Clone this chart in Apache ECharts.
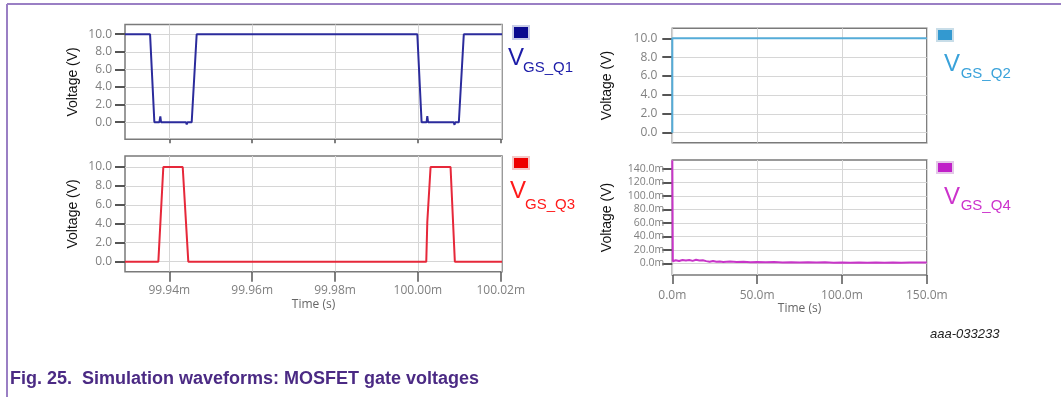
<!DOCTYPE html>
<html>
<head>
<meta charset="utf-8">
<script src="https://cdn.jsdelivr.net/npm/echarts@6/dist/echarts.min.js"></script>
<style>
  html, body { margin: 0; padding: 0; background: #ffffff; }
  #chart { width: 1061px; height: 397px; }
</style>
</head>
<body>
<div id="chart"></div>
<script>
// ---- Tick values (axis labels) ----
const leftTimeTicks = [99.94, 99.96, 99.98, 100.00, 100.02];   // ms
const rightTimeTicks = [0, 50, 100, 150];                      // ms
const voltTicks = [0, 2, 4, 6, 8, 10];                         // V
const q4Ticks = [0, 20, 40, 60, 80, 100, 120, 140];            // mV

// ---- Series: V_GS_Q1 (time in ms, volts) ----
const q1Time = [99.9293, 99.93535, 99.93639, 99.93760, 99.93783, 99.93800, 99.94400, 99.94420, 99.94440, 99.9454, 99.9466,
                99.99986, 100.00089, 100.00210, 100.00227, 100.00245, 100.00865, 100.00884, 100.00900, 100.00988, 100.01108, 100.0203];
const q1Volt = [10.0, 10.0, 0.0, 0.0, 0.65, 0.0, 0.0, -0.25, 0.0, 0.0, 10.0,
                10.0, 0.0, 0.0, 0.7, 0.0, 0.0, -0.3, 0.0, 0.0, 10.0, 10.0];

// ---- Series: V_GS_Q3 ----
const q3Time = [99.9293, 99.93735, 99.93855, 99.94323, 99.94458, 100.00202, 100.00227, 100.00306, 100.00788, 100.00892, 100.0203];
const q3Volt = [0.0, 0.0, 10.0, 10.0, 0.0, 0.0, 4.2, 10.0, 10.0, 0.0, 0.0];

// ---- Series: V_GS_Q2 (time in ms, volts) ----
const q2Time = [0, 0, 150];
const q2Volt = [0.0, 10.0, 10.0];

// ---- Series: V_GS_Q4 (time in ms, millivolts) ----
const q4Time = [0, 0.3, 2, 4, 6, 8, 10, 12, 14, 16, 18, 20, 22, 24, 26, 28, 30, 34, 38, 42, 46, 50, 55, 60, 65, 70, 75, 80, 85, 90, 95, 100, 105, 110, 115, 120, 125, 130, 135, 140, 145, 150];
const q4mV  = [153, 3.0, 4.5, 3.5, 5.0, 4.0, 4.8, 3.6, 5.2, 4.2, 4.6, 3.2, 2.4, 3.4, 2.2, 2.8, 2.0, 2.6, 1.8, 2.4, 1.6, 2.0, 1.4, 1.9, 1.2, 1.6, 1.0, 1.5, 1.1, 1.4, 0.9, 1.3, 0.8, 1.2, 0.9, 1.3, 0.8, 1.2, 0.9, 1.3, 1.0, 1.2];

const zip = (a, b) => a.map((v, i) => [v, b[i]]);

const tickFont = 'Open Sans';
const tickColor = '#808080';

function xAxisCfg(gridIndex, min, max, ticks, fmt, showLabels, tickLen, margin, nameGap) {
  return {
    type: 'value', gridIndex, min, max,
    axisLine: { show: false, onZero: false },
    axisTick: { show: tickLen > 0, length: tickLen, customValues: ticks, lineStyle: { color: '#555', width: 1.5 } },
    axisLabel: { show: showLabels, customValues: ticks, formatter: fmt, color: tickColor, fontFamily: tickFont, fontSize: 12, margin: margin },
    splitLine: { show: true, lineStyle: { color: '#d6d6d6', width: 1 } },
    name: showLabels ? 'Time (s)' : '',
    nameLocation: 'middle', nameGap: nameGap || 24,
    nameTextStyle: { color: '#666', fontFamily: tickFont, fontSize: 12 }
  };
}
function yAxisCfg(gridIndex, min, max, ticks, fmt, gap, labelSize, margin) {
  return {
    type: 'value', gridIndex, min, max,
    axisLine: { show: false, onZero: false },
    axisTick: { show: true, length: 10, customValues: ticks, lineStyle: { color: '#555', width: 2 } },
    axisLabel: { customValues: ticks, formatter: fmt, color: tickColor, fontFamily: tickFont, fontSize: labelSize, margin },
    splitLine: { show: true, lineStyle: { color: '#d6d6d6', width: 1 } },
    name: 'Voltage (V)', nameLocation: 'middle', nameGap: gap,
    nameTextStyle: { color: '#111', fontFamily: 'Liberation Sans', fontSize: 14 }
  };
}
const fmtLeftX = v => v.toFixed(2) + 'm';
const fmtRightX = v => v.toFixed(1) + 'm';
const fmtV = v => v.toFixed(1);
const fmtmV = v => v.toFixed(1) + 'm';

const gridStyle = { show: true, borderColor: '#7a7a7a', borderWidth: 1.5, backgroundColor: '#fff' };

function lineSeries(name, xi, yi, data, color) {
  return { name, type: 'line', xAxisIndex: xi, yAxisIndex: yi, data, showSymbol: false, symbol: 'none',
           clip: true, lineStyle: { color, width: 2 }, itemStyle: { color } };
}

function legendItems(sqX, ySq, sqH, sqColor, strokeColor, vX, vY, subX, subY, sub, textColor) {
  return [
    { type: 'rect', shape: { x: sqX, y: ySq, width: 16, height: sqH }, style: { fill: sqColor, stroke: strokeColor, lineWidth: 2 } },
    { type: 'text', x: vX, y: vY, style: { text: 'V', font: '24px "Liberation Sans"', fill: textColor, verticalAlign: 'middle', align: 'left' } },
    { type: 'text', x: subX, y: subY, style: { text: sub, font: '15px "Liberation Sans"', fill: textColor, verticalAlign: 'middle', align: 'left' } }
  ];
}

const chart = echarts.init(document.getElementById('chart'), null, { renderer: 'canvas' });
chart.setOption({
  animation: false,
  backgroundColor: '#ffffff',
  grid: [
    Object.assign({ left: 125, top: 24.5, width: 377, height: 114.7 }, gridStyle),
    Object.assign({ left: 125, top: 156, width: 377, height: 115.7 }, gridStyle),
    Object.assign({ left: 672.3, top: 28.3, width: 254.5, height: 114.4 }, gridStyle),
    Object.assign({ left: 672.3, top: 160, width: 254.5, height: 115 }, gridStyle)
  ],
  xAxis: [
    xAxisCfg(0, 99.9293, 100.0203, leftTimeTicks, fmtLeftX, false, 4, 10),
    xAxisCfg(1, 99.9293, 100.0203, leftTimeTicks, fmtLeftX, true, 10, 13, 27),
    xAxisCfg(2, 0, 150, rightTimeTicks, fmtRightX, false, 0, 10),
    xAxisCfg(3, 0, 150, rightTimeTicks, fmtRightX, true, 9, 15, 26)
  ],
  yAxis: [
    yAxisCfg(0, -1.93, 11.1, voltTicks, fmtV, 45, 12, 13),
    yAxisCfg(1, -1.06, 11.16, voltTicks, fmtV, 45, 12, 13),
    yAxisCfg(2, -1.06, 11.06, voltTicks, fmtV, 58, 12, 15),
    yAxisCfg(3, -17.4, 153.4, q4Ticks, fmtmV, 58, 10.5, 8)
  ],
  series: [
    lineSeries('V_GS_Q1', 0, 0, zip(q1Time, q1Volt), '#2b2b9c'),
    lineSeries('V_GS_Q3', 1, 1, zip(q3Time, q3Volt), '#e6283a'),
    lineSeries('V_GS_Q2', 2, 2, zip(q2Time, q2Volt), '#55acd8'),
    lineSeries('V_GS_Q4', 3, 3, zip(q4Time, q4mV), '#c835c8')
  ],
  graphic: [
    { type: 'line', shape: { x1: 7, y1: 4, x2: 1061, y2: 4 }, style: { stroke: '#9a7fc4', lineWidth: 2 } },
    { type: 'line', shape: { x1: 7, y1: 4, x2: 7, y2: 397 }, style: { stroke: '#9a7fc4', lineWidth: 2 } },
    ...legendItems(513, 26, 13, '#0a0a8f', '#c8cce8', 508, 58.5, 523, 67.5, 'GS_Q1', '#1c1ca8'),
    ...legendItems(513, 157, 12, '#ee0000', '#f4c8c8', 510, 191, 525, 205, 'GS_Q3', '#ff1a1a'),
    ...legendItems(937, 29, 12, '#3399d0', '#c8dde8', 944, 64, 960.7, 74, 'GS_Q2', '#3aa2da'),
    ...legendItems(937, 162, 11, '#c020c8', '#e4c8e8', 944, 197, 960.7, 206, 'GS_Q4', '#cc33cc'),
    { type: 'text', x: 930, y: 334, style: { text: 'aaa-033233', font: 'italic 13px "Liberation Sans"', fill: '#222', verticalAlign: 'middle', align: 'left' } },
    { type: 'text', x: 10, y: 379, style: { text: 'Fig. 25.  Simulation waveforms: MOSFET gate voltages', font: 'bold 18px "Liberation Sans"', fill: '#4b2a84', verticalAlign: 'middle', align: 'left' } }
  ]
});
</script>
</body>
</html>
